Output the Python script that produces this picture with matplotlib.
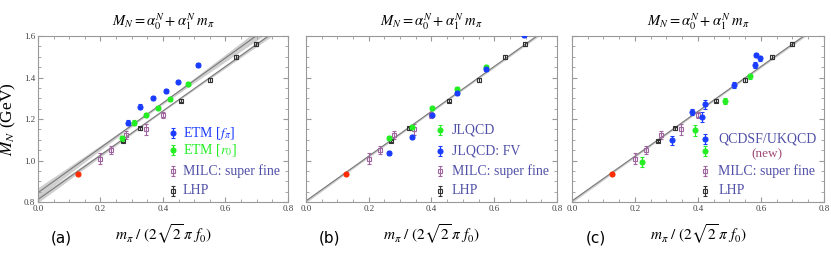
import numpy as np
import matplotlib
matplotlib.use('Agg')
import matplotlib.pyplot as plt
from matplotlib.ticker import MultipleLocator, FormatStrFormatter, NullFormatter

plt.rcParams['font.family'] = ['Liberation Serif', 'DejaVu Serif']
plt.rcParams['mathtext.fontset'] = 'stix'

# physical point
phys_mpi = [0.127]
phys_mn = [0.936]

# LHP (open squares, shared by all panels)
lhp_mpi = [0.272, 0.328, 0.457, 0.550, 0.635, 0.699]
lhp_mn = [1.094, 1.155, 1.289, 1.388, 1.500, 1.561]
lhp_err = [0.006, 0.006, 0.006, 0.008, 0.010, 0.008]

# MILC super fine
milc_mpi = [0.200, 0.235, 0.282, 0.345, 0.399]
milc_mn = [1.008, 1.049, 1.124, 1.150, 1.220]
milc_err = [0.027, 0.020, 0.020, 0.028, 0.015]

# ETM
etm_fpi_mpi = [0.287, 0.326, 0.368, 0.409, 0.449, 0.511]
etm_fpi_mn = [1.183, 1.260, 1.301, 1.335, 1.380, 1.460]
etm_fpi_err = [0.010, 0.010, 0.008, 0.010, 0.008, 0.010]
etm_r0_mpi = [0.270, 0.308, 0.345, 0.384, 0.422, 0.479]
etm_r0_mn = [1.107, 1.183, 1.221, 1.252, 1.295, 1.369]
etm_r0_err = [0.012, 0.012, 0.010, 0.010, 0.008, 0.010]

# JLQCD
jlqcd_mpi = [0.265, 0.339, 0.401, 0.480, 0.573]
jlqcd_mn = [1.110, 1.163, 1.251, 1.346, 1.452]
jlqcd_err = [0.010, 0.010, 0.008, 0.008, 0.008]
jlqcd_fv_mpi = [0.265, 0.339, 0.401, 0.480, 0.573, 0.695]
jlqcd_fv_mn = [1.038, 1.113, 1.218, 1.324, 1.441, 1.605]
jlqcd_fv_err = [0.010, 0.010, 0.008, 0.008, 0.008, 0.008]

# QCDSF/UKQCD
qcdsf_b_mpi = [0.318, 0.380, 0.413, 0.422, 0.516, 0.580, 0.585, 0.597]
qcdsf_b_mn = [1.097, 1.234, 1.211, 1.271, 1.364, 1.462, 1.507, 1.494]
qcdsf_b_err = [0.022, 0.014, 0.025, 0.022, 0.015, 0.014, 0.010, 0.012]
qcdsf_g_mpi = [0.2215, 0.391, 0.487, 0.564]
qcdsf_g_mn = [0.993, 1.145, 1.288, 1.406]
qcdsf_g_err = [0.022, 0.028, 0.014, 0.012]

# linear fits: (alpha0, alpha1, band half-width at mpi=0, minimal half-width, centre)
fit_a_upper = (0.845, 1.082, 0.024, 0.006, 0.35)
fit_a_lower = (0.812, 1.068, 0.015, 0.004, 0.42)
fit_bc = (0.805, 1.080, 0.008, 0.005, 0.40)

BLUE = '#1a3cff'
GREEN = '#22ee22'
RED = '#ff2a00'
PURPLE = '#a066a0'
DARK = '#333333'
SLATE = '#5050a8'
FS_KEY = 10


def draw_fit(ax, fit):
    a0, a1, hw0, hwmin, xc = fit
    x = np.linspace(0.0, 0.8, 200)
    y = a0 + a1 * x
    hw = np.sqrt(hwmin ** 2 + (hw0 ** 2 - hwmin ** 2) * ((x - xc) / xc) ** 2)
    ax.fill_between(x, y - hw, y + hw, color='#c4c4c4', alpha=0.8, lw=0, zorder=1)
    ax.plot(x, y, color='#7a7a7a', lw=0.8, zorder=2)


def pts(ax, x, y, err, color, marker='o', ms=3.6, mfc=None):
    ax.errorbar(x, y, yerr=err, fmt=marker, color=color, ms=ms,
                mfc=mfc if mfc else color, mec=color, mew=0.8,
                elinewidth=0.8, capsize=1.5, capthick=0.8, zorder=3)


def key(ax, x, y, color, label, tcolor, marker='o', ms=3.6, mfc=None, err=0.03, tx=0.58):
    ax.errorbar([x], [y], yerr=[err], fmt=marker, color=color, ms=ms,
                mfc=mfc if mfc else color, mec=color, mew=0.8,
                elinewidth=0.8, capsize=1.5, capthick=0.8,
                transform=ax.transAxes, clip_on=False, zorder=4)
    if label:
        ax.text(tx, y, label, color=tcolor, fontsize=FS_KEY, va='center', ha='left',
                transform=ax.transAxes)


def common(ax, panel_tag, ylabels):
    ax.set_xlim(0.0, 0.8)
    ax.set_ylim(0.8, 1.6)
    ax.xaxis.set_major_locator(MultipleLocator(0.2))
    ax.xaxis.set_minor_locator(MultipleLocator(0.05))
    ax.yaxis.set_major_locator(MultipleLocator(0.2))
    ax.yaxis.set_minor_locator(MultipleLocator(0.05))
    ax.xaxis.set_major_formatter(FormatStrFormatter('%.1f'))
    if ylabels:
        ax.yaxis.set_major_formatter(FormatStrFormatter('%.1f'))
    else:
        ax.yaxis.set_major_formatter(NullFormatter())
    ax.tick_params(which='both', direction='in', top=True, right=True,
                   color='#999999', labelcolor='#444444', labelsize=6.5, pad=2)
    ax.tick_params(which='major', length=3.5)
    ax.tick_params(which='minor', length=2)
    for s in ax.spines:
        ax.spines[s].set_color('#999999')
        ax.spines[s].set_linewidth(0.8)
    ax.set_title(r'$M_N = \alpha_0^N + \alpha_1^N\; m_\pi$', fontsize=10.5, pad=7)
    ax.set_xlabel(r'$m_\pi\ /\ (2\sqrt{2}\,\pi\ f_0)$', fontsize=11, labelpad=7)
    ax.text(0.095, -0.215, panel_tag, transform=ax.transAxes, fontsize=11,
            family='DejaVu Sans', ha='center', va='center')


fig = plt.figure(figsize=(8.31, 2.58), dpi=100)
ax_a = fig.add_axes([0.0457, 0.217, 0.3008, 0.6434])
ax_b = fig.add_axes([0.3682, 0.217, 0.3020, 0.6434])
ax_c = fig.add_axes([0.6883, 0.217, 0.3032, 0.6434])

# panel (a)
draw_fit(ax_a, fit_a_upper)
draw_fit(ax_a, fit_a_lower)
pts(ax_a, milc_mpi, milc_mn, milc_err, PURPLE, 's', 3.2, 'none')
pts(ax_a, lhp_mpi, lhp_mn, lhp_err, DARK, 's', 3.0, 'none')
pts(ax_a, etm_fpi_mpi, etm_fpi_mn, etm_fpi_err, BLUE)
pts(ax_a, etm_r0_mpi, etm_r0_mn, etm_r0_err, GREEN)
pts(ax_a, phys_mpi, phys_mn, [0.0], RED)
key(ax_a, 0.541, 0.414, BLUE, r'ETM [$f_\pi$]', BLUE)
key(ax_a, 0.541, 0.313, GREEN, r'ETM [$r_0$]', GREEN)
key(ax_a, 0.541, 0.189, PURPLE, 'MILC: super fine', SLATE, 's', 3.2, 'none')
key(ax_a, 0.541, 0.068, DARK, 'LHP', SLATE, 's', 3.0, 'none')
common(ax_a, '(a)', True)
ax_a.set_ylabel(r'$M_N$ (GeV)', fontsize=12.5, labelpad=4)

# panel (b)
draw_fit(ax_b, fit_bc)
pts(ax_b, milc_mpi, milc_mn, milc_err, PURPLE, 's', 3.2, 'none')
pts(ax_b, lhp_mpi, lhp_mn, lhp_err, DARK, 's', 3.0, 'none')
pts(ax_b, jlqcd_mpi, jlqcd_mn, jlqcd_err, GREEN)
pts(ax_b, jlqcd_fv_mpi, jlqcd_fv_mn, jlqcd_fv_err, BLUE)
pts(ax_b, phys_mpi, phys_mn, [0.0], RED)
key(ax_b, 0.534, 0.434, GREEN, 'JLQCD', SLATE)
key(ax_b, 0.534, 0.309, BLUE, 'JLQCD: FV', SLATE)
key(ax_b, 0.534, 0.189, PURPLE, 'MILC: super fine', SLATE, 's', 3.2, 'none')
key(ax_b, 0.534, 0.068, DARK, 'LHP', SLATE, 's', 3.0, 'none')
common(ax_b, '(b)', False)

# panel (c)
draw_fit(ax_c, fit_bc)
pts(ax_c, milc_mpi, milc_mn, milc_err, PURPLE, 's', 3.2, 'none')
pts(ax_c, lhp_mpi, lhp_mn, lhp_err, DARK, 's', 3.0, 'none')
pts(ax_c, qcdsf_b_mpi, qcdsf_b_mn, qcdsf_b_err, BLUE)
pts(ax_c, qcdsf_g_mpi, qcdsf_g_mn, qcdsf_g_err, GREEN)
pts(ax_c, phys_mpi, phys_mn, [0.0], RED)
key(ax_c, 0.529, 0.380, BLUE, 'QCDSF/UKQCD', SLATE)
key(ax_c, 0.529, 0.305, GREEN, None, SLATE)
ax_c.text(0.773, 0.290, '(new)', color='#a04a78', fontsize=9.5, ha='center', va='center',
          transform=ax_c.transAxes)
key(ax_c, 0.529, 0.189, PURPLE, 'MILC: super fine', SLATE, 's', 3.2, 'none')
key(ax_c, 0.529, 0.068, DARK, 'LHP', SLATE, 's', 3.0, 'none')
common(ax_c, '(c)', False)

fig.savefig('out.png', dpi=100)
plt.close('all')
